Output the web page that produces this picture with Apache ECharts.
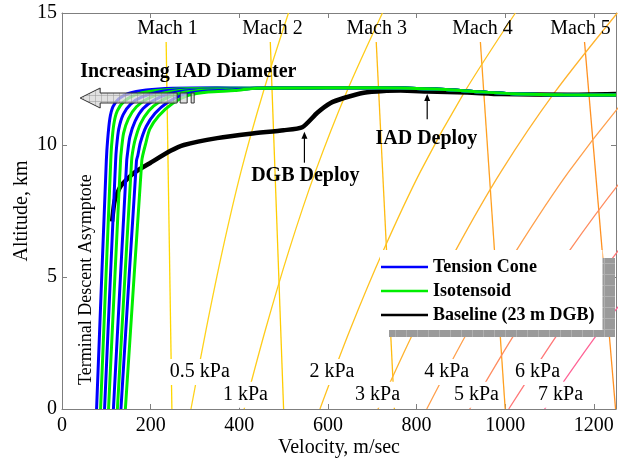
<!DOCTYPE html>
<html>
<head>
<meta charset="utf-8">
<script src="https://cdn.jsdelivr.net/npm/echarts/dist/echarts.min.js"></script>
<style>
  html, body { margin: 0; padding: 0; background: #fff; }
  #chart { width: 622px; height: 460px; }
</style>
</head>
<body>
<div id="chart"></div>
<script>
// ---- Mach lines: velocity (m/s) at the top end (13.9 km) and at ground level ----
const machLabels = ['Mach 1', 'Mach 2', 'Mach 3', 'Mach 4', 'Mach 5'];
const machTopAlt = 13.9;
const machTopVel = [235, 470, 709, 944, 1179];
const machGroundVel = [248, 500, 750, 1000, 1249];

// ---- Dynamic pressure contours: velocity (m/s) at each altitude (km) ----
const qAltitudes = [0, 3, 6, 9, 12, 15];
const qLabels = ['0.5 kPa', '1 kPa', '2 kPa', '3 kPa', '4 kPa', '5 kPa', '6 kPa', '7 kPa'];
const q05 = [291, 325, 362, 404, 454, 511];
const q1 = [411, 459, 512, 572, 642, 723];
const q2 = [582, 650, 725, 809, 908, 1023];
const q3 = [713, 796, 888, 991, 1112, 1253];
const q4 = [823, 918, 1025, 1144, 1284, 1446];
const q5 = [920, 1027, 1145, 1279, 1435, 1616];
const q6 = [1008, 1125, 1255, 1401];
const q7 = [1089, 1215, 1356];

// ---- Trajectories: [velocity m/s, altitude km] ----
// shared supersonic leg before the decelerators diverge
const cruiseLeg = [[1250, 11.89], [1130, 11.9], [1020, 11.94], [914, 12.05], [840, 12.12], [764, 12.16], [650, 12.17], [540, 12.16], [440, 12.15]];
const tensionCone1 = [[350, 12.17], [250, 12.15], [190, 12.08], [150, 11.95], [128, 11.75], [115, 11.45], [108, 11.0], [103, 10.2], [100, 9.4], [78, 0]];
const isotensoid1 = [[350, 12.15], [260, 12.12], [200, 12.04], [165, 11.9], [140, 11.65], [125, 11.3], [117, 10.8], [112, 10.0], [110, 9.4], [87, 0]];
const tensionCone2 = [[350, 12.13], [270, 12.1], [215, 12.0], [180, 11.82], [155, 11.55], [138, 11.15], [128, 10.6], [123, 9.9], [121, 9.4], [96, 0]];
const isotensoid2 = [[350, 12.12], [280, 12.08], [230, 11.97], [195, 11.77], [168, 11.45], [150, 11.0], [139, 10.45], [134, 9.8], [132, 9.4], [105, 0]];
const tensionCone3 = [[360, 12.11], [290, 12.06], [245, 11.95], [210, 11.72], [183, 11.38], [165, 10.9], [153, 10.3], [148, 9.7], [146, 9.4], [116, 0]];
const isotensoid3 = [[370, 12.1], [300, 12.05], [258, 11.93], [222, 11.66], [196, 11.3], [177, 10.8], [165, 10.2], [159, 9.7], [157, 9.4], [125, 0]];
const tensionCone4 = [[380, 12.08], [315, 12.03], [272, 11.9], [237, 11.6], [210, 11.2], [190, 10.7], [177, 10.1], [171, 9.6], [168, 9.4], [133, 0]];
const isotensoid4 = [[390, 12.06], [330, 12.01], [285, 11.88], [250, 11.58], [218, 11.1], [198, 10.6], [188, 10.0], [182, 9.6], [180, 9.4], [143, 0]];
const baseline = [[1250, 11.93], [1140, 11.9], [990, 11.93], [914, 11.99], [824, 12.03], [764, 12.06], [726, 12.05], [681, 11.98],
  [636, 11.78], [606, 11.59], [576, 11.22], [542, 10.67], [500, 10.56], [425, 10.43], [350, 10.26], [275, 10.0], [245, 9.78],
  [199, 9.32], [162, 8.94], [132, 8.43], [119, 7.9], [113, 7.1]];

// ---- styling ----
const FONT = '"Liberation Serif", "Times New Roman", serif';
const machColors = ['#ffd700', '#ffcc00', '#ffbb10', '#ffa020', '#ff9020'];
const qColors = ['#ffd21a', '#ffcc1a', '#ffc220', '#ffb32e', '#ffa04c', '#ff8c60', '#ff7878', '#ff6496'];
const AXIS_GREY = '#7f7f7f';

const chart = echarts.init(document.getElementById('chart'), null, { renderer: 'canvas' });

const series = [];
machLabels.forEach((name, i) => {
  series.push({
    name, type: 'line', symbol: 'none', silent: true, z: 1,
    lineStyle: { color: machColors[i], width: 1.3 },
    data: [[machTopVel[i], machTopAlt], [machGroundVel[i], 0]]
  });
});
[q05, q1, q2, q3, q4, q5, q6, q7].forEach((vels, i) => {
  series.push({
    name: qLabels[i], type: 'line', symbol: 'none', silent: true, z: 1, smooth: 0.3,
    lineStyle: { color: qColors[i], width: 1.3 },
    data: vels.map((v, k) => [v, qAltitudes[k]])
  });
});
series.push({
  name: 'Baseline (23 m DGB)', type: 'line', symbol: 'none', silent: true, z: 2, smooth: 0.2,
  lineStyle: { color: '#000', width: 4.5 }, itemStyle: { color: '#000' },
  data: baseline
});
const iad = [
  ['Tension Cone', tensionCone1], ['Isotensoid', isotensoid1],
  ['Tension Cone', tensionCone2], ['Isotensoid', isotensoid2],
  ['Tension Cone', tensionCone3], ['Isotensoid', isotensoid3],
  ['Tension Cone', tensionCone4], ['Isotensoid', isotensoid4]
];
iad.forEach(([name, knee]) => {
  const col = name === 'Tension Cone' ? '#0000ff' : '#00ee00';
  series.push({
    name, type: 'line', symbol: 'none', silent: true, z: 3, smooth: 0.25,
    lineStyle: { color: col, width: 3 }, itemStyle: { color: col },
    data: cruiseLeg.concat(knee)
  });
});

const axisCommon = {
  axisLine: { show: true, onZero: false, lineStyle: { color: AXIS_GREY, width: 1 } },
  axisTick: { show: true, inside: true, length: 5, lineStyle: { color: AXIS_GREY } },
  splitLine: { show: false }
};

chart.setOption({
  animation: false,
  backgroundColor: '#fff',
  grid: { left: 62, right: 6, top: 13, bottom: 51, containLabel: false, outerBoundsMode: 'none' },
  legend: {
    data: ['Tension Cone', 'Isotensoid', 'Baseline (23 m DGB)'].map(n => ({ name: n, icon: 'rect' })),
    orient: 'vertical', left: 380, top: 250, z: 20,
    padding: [8, 8, 6, 1], itemGap: 6, itemWidth: 47, itemHeight: 2.5,
    backgroundColor: '#fff', selectedMode: false,
    textStyle: { fontFamily: FONT, fontSize: 18, fontWeight: 'bold', color: '#000', lineHeight: 18 }
  },
  xAxis: [
    Object.assign({
      type: 'value', min: 0, max: 1250, interval: 200, position: 'bottom',
      name: 'Velocity, m/sec', nameLocation: 'middle', nameGap: 29, nameMoveOverlap: false,
      nameTextStyle: { fontFamily: FONT, fontSize: 20, color: '#000' },
      axisLabel: { fontFamily: FONT, fontSize: 20, color: '#000', margin: 7, formatter: v => String(v) }
    }, axisCommon),
    Object.assign({
      type: 'value', min: 0, max: 1250, interval: 200, position: 'top',
      axisLabel: { show: false }
    }, axisCommon)
  ],
  yAxis: [
    Object.assign({
      type: 'value', min: 0, max: 15, interval: 5, position: 'left',
      name: 'Altitude, km', nameLocation: 'middle', nameGap: 30, nameRotate: 90, nameMoveOverlap: false,
      nameTextStyle: { fontFamily: FONT, fontSize: 20, color: '#000' },
      axisLabel: { fontFamily: FONT, fontSize: 20, color: '#000', margin: 5 }
    }, axisCommon),
    Object.assign({
      type: 'value', min: 0, max: 15, interval: 5, position: 'right',
      axisLabel: { show: false }
    }, axisCommon)
  ],
  series
});

// ---- annotations placed in data coordinates ----
function px(v, a) { return chart.convertToPixel({ xAxisIndex: 0, yAxisIndex: 0 }, [v, a]); }

function gridPattern(bg, line, step) {
  const c = document.createElement('canvas');
  c.width = step; c.height = step;
  const g = c.getContext('2d');
  g.fillStyle = bg; g.fillRect(0, 0, step, step);
  g.strokeStyle = line; g.lineWidth = 1;
  g.beginPath();
  g.moveTo(step - 0.5, 0); g.lineTo(step - 0.5, step);
  g.moveTo(0, step - 0.5); g.lineTo(step, step - 0.5);
  g.stroke();
  return c;
}

function text(str, v, a, opts) {
  const p = px(v, a);
  return {
    type: 'text', z: 30, x: p[0], y: p[1], rotation: opts.rotation || 0,
    style: Object.assign({
      text: str, fill: '#000', align: 'center', verticalAlign: 'middle',
      font: (opts.bold ? 'bold ' : '') + (opts.size || 20) + 'px ' + FONT
    }, opts.bg ? { backgroundColor: '#fff', padding: [3, 3] } : {})
  };
}

function upArrow(v, a0, a1) {
  const p0 = px(v, a0), p1 = px(v, a1);
  return [
    { type: 'line', z: 30, shape: { x1: p0[0], y1: p0[1], x2: p1[0], y2: p1[1] + 5 }, style: { stroke: '#000', lineWidth: 1.2 } },
    { type: 'polygon', z: 30, shape: { points: [[p1[0], p1[1]], [p1[0] - 3, p1[1] + 7], [p1[0] + 3, p1[1] + 7]] }, style: { fill: '#000' } }
  ];
}

const machLabelPos = [[238, 14.42], [475, 14.42], [710, 14.42], [949, 14.42], [1170, 14.42]];
const qLabelPos = [[311, 1.4], [414, 0.54], [609, 1.4], [712, 0.54], [868, 1.4], [935, 0.54], [1073, 1.4], [1125, 0.54]];

const graphics = [];
machLabels.forEach((m, i) => graphics.push(text(m, machLabelPos[i][0], machLabelPos[i][1], {})));
qLabels.forEach((q, i) => graphics.push(text(q, qLabelPos[i][0], qLabelPos[i][1], { bg: true })));
graphics.push(text('DGB Deploy', 549, 8.83, { bold: true }));
graphics.push(...upArrow(547, 9.33, 10.5));
graphics.push(text('IAD Deploy', 822, 10.24, { bold: true }));
graphics.push(...upArrow(824, 10.98, 11.93));
graphics.push(text('Terminal Descent Asymptote', 55, 4.9, { rotation: Math.PI / 2, size: 18 }));

// "Increasing IAD Diameter" caption and its left-pointing arrow
const cap = px(41, 12.78);
graphics.push({
  type: 'text', z: 30, x: cap[0], y: cap[1],
  style: { text: 'Increasing IAD Diameter', fill: '#000', align: 'left', verticalAlign: 'middle', font: 'bold 20px ' + FONT }
});
const tip = px(41, 11.78);
const tx = tip[0], ty = tip[1];
graphics.push({
  type: 'polygon', z: 25,
  shape: { points: [[tx, ty], [tx + 20, ty - 10], [tx + 20, ty - 5], [tx + 97, ty - 5], [tx + 97, ty + 5], [tx + 20, ty + 5], [tx + 20, ty + 10]] },
  style: { fill: { image: gridPattern('rgba(215,215,215,0.75)', 'rgba(150,150,150,0.5)', 6), repeat: 'repeat' }, stroke: '#333', lineWidth: 1 }
});
graphics.push({ type: 'rect', z: 25, shape: { x: tx + 100, y: ty - 5, width: 7, height: 10 }, style: { fill: 'rgba(215,215,215,0.75)', stroke: '#333', lineWidth: 1 } });
graphics.push({ type: 'rect', z: 25, shape: { x: tx + 111, y: ty - 5, width: 3, height: 10 }, style: { fill: 'rgba(215,215,215,0.75)', stroke: '#333', lineWidth: 1 } });

// legend drop shadow
graphics.push({
  type: 'rect', z: 15, shape: { x: 389, y: 258, width: 226, height: 79 },
  style: { fill: { image: gridPattern('#9a9a9a', '#b0b0b0', 11), repeat: 'repeat' } }
});

chart.setOption({ graphic: graphics });
</script>
</body>
</html>
